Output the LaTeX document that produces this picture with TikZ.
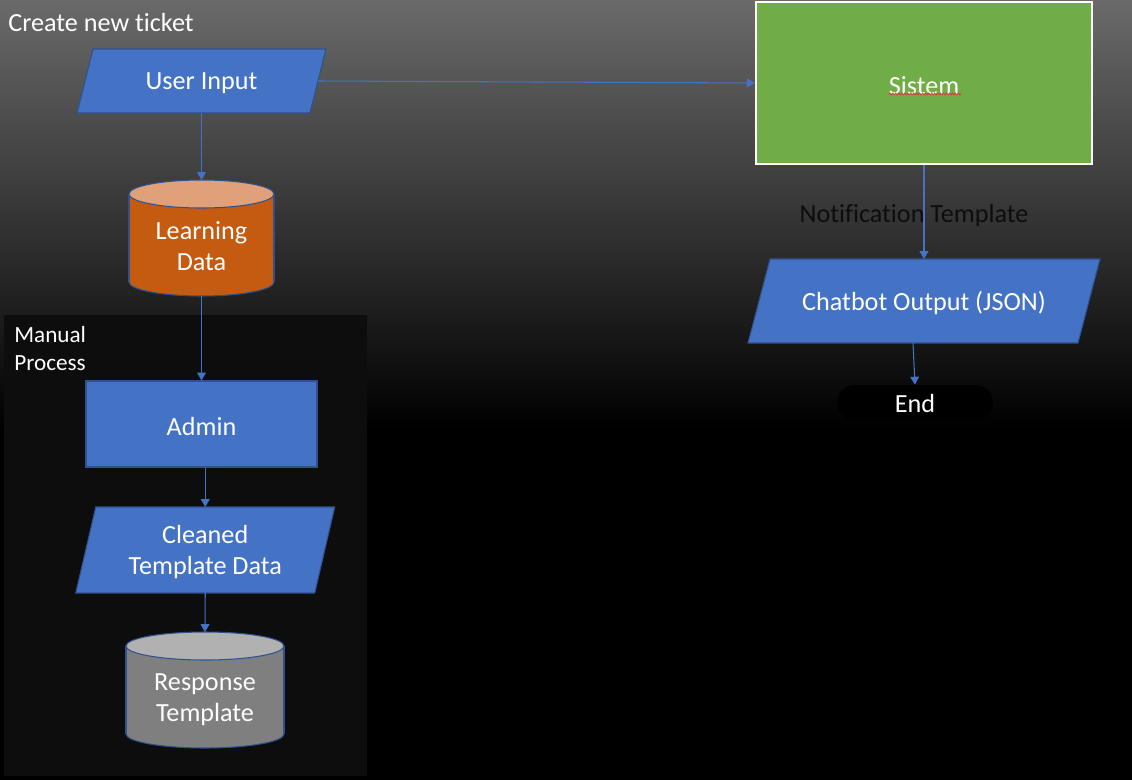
\documentclass[tikz,border=0pt]{standalone}
\usepackage{fontspec}
\setmainfont{Carlito}[Ligatures=NoCommon]
\usetikzlibrary{arrows.meta,calc,decorations.pathmorphing}
\definecolor{fblue}{HTML}{4472C4}
\definecolor{nvy}{HTML}{2F528F}
\definecolor{sgreen}{HTML}{70AD47}
\definecolor{orng}{HTML}{C55A11}
\definecolor{orngtop}{HTML}{DFA07A}
\definecolor{gbody}{HTML}{7F7F7F}
\definecolor{gtop}{HTML}{B1B1B1}
\definecolor{bgtop}{HTML}{6A6A6A}
\definecolor{mpfill}{HTML}{0D0D0D}
\definecolor{squig}{HTML}{D83B3B}
\pgfdeclarelayer{bg}\pgfdeclarelayer{shp}\pgfsetlayers{bg,shp,main}
\begin{document}
\begin{tikzpicture}[x=0.02cm,y=-0.02cm,
  txt/.style={text=white,font=\fontsize{14.9}{17.6}\selectfont,align=center,inner sep=0pt},
  lbl/.style={txt,yshift=-1.4pt},
  conn/.style={draw=fblue,line width=0.6pt,-{Triangle[length=4.5pt,width=5pt]}},
  pshape/.style={fill=fblue,draw=nvy,line width=0.6pt},
  cyl/.style={draw=nvy,line width=0.6pt},
  blank/.style={inner sep=0pt,outer sep=0pt}]
\useasboundingbox (0,0) rectangle (1132,780);
\begin{pgfonlayer}{bg}
  \shade[top color=bgtop,bottom color=black] (0,0) rectangle (1132,430);
  \fill[black] (0,429) rectangle (1132,780);
  \fill[mpfill] (4,315) rectangle (367,776);
\end{pgfonlayer}

% shape nodes
\node[blank,minimum width=4.66cm,minimum height=1.28cm] (ui) at (201.5,81) {};
\node[fill=sgreen,draw=white,line width=1.4pt,minimum width=6.72cm,minimum height=3.24cm] (sis) at (924,83) {};
\node[blank,minimum width=6.6cm,minimum height=1.68cm] (chat) at (924,301) {};
\node[fill=black,rounded corners=0.35cm,minimum width=3.12cm,minimum height=0.7cm] (end) at (915,402.5) {};
\node[blank,minimum width=2.9cm,minimum height=2.32cm] (ld) at (201.5,238) {};
\node[fill=fblue,draw=nvy,line width=0.6pt,minimum width=4.62cm,minimum height=1.72cm] (adm) at (201.5,424) {};
\node[blank,minimum width=4.78cm,minimum height=1.72cm] (cl) at (205.25,550) {};
\node[blank,minimum width=3.16cm,minimum height=2.32cm] (rt) at (205,690) {};

% shapes behind text
\begin{pgfonlayer}{shp}
  \path[pshape] ($(ui.north west)+(8,0)$) -- ($(ui.north east)+(8,0)$) -- ($(ui.south east)+(-8,0)$) -- ($(ui.south west)+(-8,0)$) -- cycle;
  \path[pshape] ($(chat.north west)+(11,0)$) -- ($(chat.north east)+(11,0)$) -- ($(chat.south east)+(-11,0)$) -- ($(chat.south west)+(-11,0)$) -- cycle;
  \path[pshape] ($(cl.north west)+(10,0)$) -- ($(cl.north east)+(10,0)$) -- ($(cl.south east)+(-10,0)$) -- ($(cl.south west)+(-10,0)$) -- cycle;
  % Learning Data cylinder
  \filldraw[cyl,fill=orng] ($(ld.south)+(0,-14)$) ellipse[x radius=72.5,y radius=14];
  \fill[orng] ($(ld.north west)+(0,14)$) rectangle ($(ld.south east)+(0,-14)$);
  \draw[cyl] ($(ld.north west)+(0,14)$) -- ($(ld.south west)+(0,-14)$) ($(ld.north east)+(0,14)$) -- ($(ld.south east)+(0,-14)$);
  \filldraw[cyl,fill=orngtop] ($(ld.north)+(0,14)$) ellipse[x radius=72.5,y radius=14];
  % Response Template cylinder
  \filldraw[cyl,fill=gbody] ($(rt.south)+(0,-14)$) ellipse[x radius=79,y radius=14];
  \fill[gbody] ($(rt.north west)+(0,14)$) rectangle ($(rt.south east)+(0,-14)$);
  \draw[cyl] ($(rt.north west)+(0,14)$) -- ($(rt.south west)+(0,-14)$) ($(rt.north east)+(0,14)$) -- ($(rt.south east)+(0,-14)$);
  \filldraw[cyl,fill=gtop] ($(rt.north)+(0,14)$) ellipse[x radius=79,y radius=14];
\end{pgfonlayer}

% texts
\node[txt,anchor=west] (title) at (8,22.5) {Create new ticket};
\node[lbl] (uit) at (ui.center) {User Input};
\node[lbl] (sist) at (sis.center) {Sistem};
\node[lbl,text=black!95] (nt) at (914,213) {Notification Template};
\node[lbl] (chatt) at (chat.center) {Chatbot Output (JSON)};
\node[txt] (endt) at (915,403.5) {End};
\node[txt] (ldt) at (201.5,246) {Learning\\Data};
\node[txt,font=\fontsize{13.2}{15.9}\selectfont,align=left,anchor=west] (mp) at (14,348.5) {Manual\\Process};
\node[lbl] (admt) at (adm.center) {Admin};
\node[lbl] (clt) at (cl.center) {Cleaned\\Template Data};
\node[txt] (rtt) at (205,699.5) {Response\\Template};

% spelling squiggle under Sistem
\draw[squig,line width=0.45pt,decorate,decoration={zigzag,segment length=1.7pt,amplitude=0.55pt}] ($(sis.center)+(-35,11)$) -- ($(sis.center)+(37,11)$);

% connectors
\draw[conn] (ui.east) -- (sis.west);
\draw[conn] (ui.south) -- (ld.north);
\draw[conn] (ld.south) -- (adm.north);
\draw[conn] (adm.south -| cl.north) -- (cl.north);
\draw[conn] (cl.south) -- (rt.north);
\draw[conn] (sis.south) -- (chat.north);
\draw[conn] ($(chat.south)+(-11,0)$) -- (end.north);
\end{tikzpicture}
\end{document}
